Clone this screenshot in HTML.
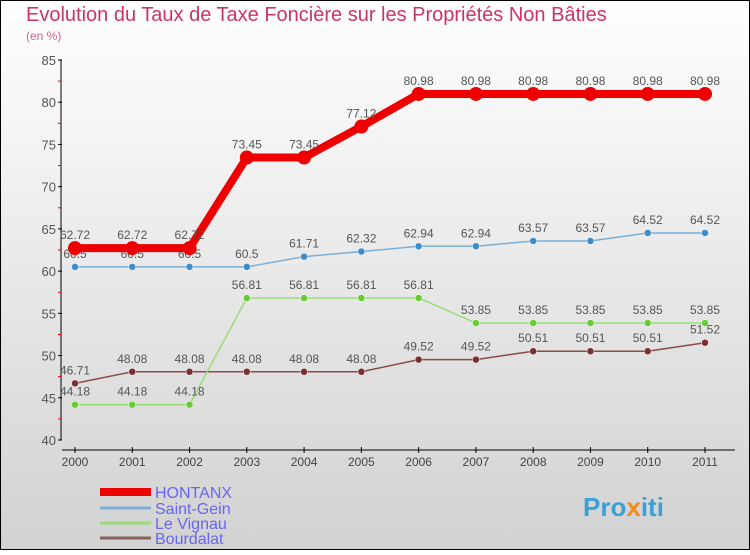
<!DOCTYPE html>
<html><head><meta charset="utf-8"><style>
body{margin:0;}
#c{width:750px;height:550px;position:relative;}
svg text{font-family:"Liberation Sans",sans-serif;}
</style></head><body>
<div id="c">
<svg id="s" width="750" height="550" xmlns="http://www.w3.org/2000/svg">
<defs><linearGradient id="bg" x1="0" y1="0" x2="0" y2="1"><stop offset="0" stop-color="#ffffff"/><stop offset="1" stop-color="#d2d2d2"/></linearGradient></defs>
<rect x="0.5" y="0.5" width="749" height="549" fill="url(#bg)" stroke="#000"/>
<text x="26" y="21" font-size="20" fill="#cc3366">Evolution du Taux de Taxe Foncière sur les Propriétés Non Bâties</text>
<text x="26" y="40" font-size="12" fill="#cc6688">(en %)</text>
<g id="axes"></g>
<g id="series"></g>
<g id="legend"></g>
<text x="583" y="516" font-size="26" font-weight="bold" fill="#3aa0d8">Pro<tspan fill="#f08c1a">x</tspan>iti</text>
</svg>
</div>
<script>
const years=[2000,2001,2002,2003,2004,2005,2006,2007,2008,2009,2010,2011];
const yTicks=[40,45,50,55,60,65,70,75,80,85];
const seriesNames=["HONTANX","Saint-Gein","Le Vignau","Bourdalat"];
const hontanx=[62.72,62.72,62.72,73.45,73.45,77.12,80.98,80.98,80.98,80.98,80.98,80.98];
const saintGein=[60.5,60.5,60.5,60.5,61.71,62.32,62.94,62.94,63.57,63.57,64.52,64.52];
const leVignau=[44.18,44.18,44.18,56.81,56.81,56.81,56.81,53.85,53.85,53.85,53.85,53.85];
const bourdalat=[46.71,48.08,48.08,48.08,48.08,48.08,49.52,49.52,50.51,50.51,50.51,51.52];
const NS="http://www.w3.org/2000/svg";
const X=i=>75+i*(705-75)/(years.length-1);
const Y=v=>440-(v-40)*(380/45);
function mk(tag,attrs,parent,txt){const e=document.createElementNS(NS,tag);for(const k in attrs)e.setAttribute(k,attrs[k]);if(txt!==undefined)e.textContent=txt;parent.appendChild(e);return e;}
const ax=document.getElementById('axes');
let e=mk('line',{x1:61,y1:60,x2:61,y2:440,stroke:'#000'},ax);

e=mk('line',{x1:62,y1:450,x2:735,y2:450,stroke:'#000'},ax);

yTicks.forEach(v=>{const y=Y(v);
 mk('line',{x1:58,y1:y,x2:62,y2:y,stroke:'#000'},ax);
 if(v<85)mk('line',{x1:58,y1:Y(v+2.5),x2:61,y2:Y(v+2.5),stroke:'#e00'},ax);
 e=mk('text',{x:56,y:y+5,'font-size':13,fill:'#555','text-anchor':'end'},ax,v);
 
});
years.forEach((yr,i)=>{const x=X(i);
 mk('line',{x1:x,y1:447,x2:x,y2:453,stroke:'#000'},ax);
 e=mk('text',{x:x,y:466,'font-size':12,fill:'#444','text-anchor':'middle'},ax,yr);
 
});
const sg=document.getElementById('series');
const defs=[
 {d:bourdalat,c:'#7a3030',lc:'#8a4a4a',w:1.5,r:3.5,name:'bourdalat'},
 {d:leVignau,c:'#66cc33',lc:'#99dd77',w:1.5,r:3.5,name:'le-vignau'},
 {d:saintGein,c:'#3d8ccc',lc:'#7aaed6',w:1.5,r:3.5,name:'saint-gein'},
 {d:hontanx,c:'#ee0000',lc:'#ee0000',w:8,r:7,name:'hontanx'}];
defs.forEach(s=>{
 const pts=s.d.map((v,i)=>X(i)+','+Y(v)).join(' ');
 let l=mk('polyline',{points:pts,fill:'none',stroke:s.lc,'stroke-width':s.w},sg);
 
 s.d.forEach((v,i)=>{
  let c=mk('circle',{cx:X(i),cy:Y(v),r:s.r,fill:s.c,stroke:s.w>2?'none':'#fff','stroke-width':0.5},sg);
  
  let t=mk('text',{x:X(i),y:Y(v)-9,'font-size':12,fill:'#555','text-anchor':'middle'},sg,v.toFixed(2).replace(/0$/,'').replace(/\.$/,''));
  
 });
});
const lg=document.getElementById('legend');
const lcol=['#ee0000','#7aaed6','#99dd77','#8a6060'];const lw=[8,3,3,3];const ly=[492,508,523,538];
seriesNames.forEach((n,i)=>{
 let l=mk('line',{x1:100,y1:ly[i],x2:151,y2:ly[i],stroke:lcol[i],'stroke-width':lw[i]},lg);
 
 let t=mk('text',{x:155,y:ly[i]+6,'font-size':16,fill:'#6666ee'},lg,n);
 
});
</script>
</body></html>
